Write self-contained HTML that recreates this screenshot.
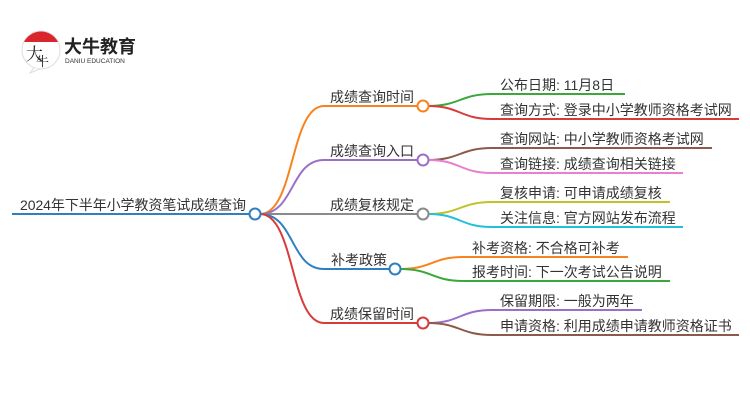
<!DOCTYPE html>
<html><head><meta charset="utf-8"><style>
html,body{margin:0;padding:0;background:#fff;}
svg{display:block;font-family:"Liberation Sans","Noto Sans CJK SC",sans-serif;}
</style></head><body>
<svg width="750" height="410" viewBox="0 0 750 410" xmlns="http://www.w3.org/2000/svg">
<!-- logo -->
<circle cx="41" cy="50" r="19" fill="#fff" stroke="#ddd" stroke-width="1"/>
<path d="M24 42 A19 19 0 0 1 58 42 Z" fill="#d8262c"/>
<path d="M34 68 L30 73 L40 69" fill="#fff" stroke="#ddd" stroke-width="1"/>
<text x="26" y="60" font-size="17" fill="#222" font-family="'Noto Serif CJK SC',serif">大</text>
<text x="36" y="66" font-size="13" fill="#222" font-family="'Noto Serif CJK SC',serif">牛</text>
<text x="64" y="53" font-size="18" font-weight="bold" fill="#222">大牛教育</text>
<text x="65" y="63" font-size="6.5" fill="#333">DANIU EDUCATION</text>

<g fill="none" stroke-width="2">
<line x1="12" y1="214" x2="250" y2="214" stroke="#2f7fc1"/>
<path d="M260 214 C295 214 290 106 324 106 L418 106" stroke="#f7831f"/>
<path d="M260 214 C295 214 290 160 324 160 L418 160" stroke="#9b6fc9"/>
<path d="M260 214 L418 214" stroke="#8a8a8a"/>
<path d="M260 214 C295 214 290 269 324 269 L389 269" stroke="#2f7fc1"/>
<path d="M260 214 C295 214 290 323 324 323 L417 323" stroke="#d93b3b"/>
<path d="M428 106 C460 106 460 94 492 94 L625 94" stroke="#3aa83a"/>
<path d="M428 106 C460 106 460 119 492 119 L739 119" stroke="#d93b3b"/>
<path d="M428 160 C460 160 460 148 492 148 L712 148" stroke="#8b5a4a"/>
<path d="M428 160 C460 160 460 173 492 173 L683 173" stroke="#e87fcf"/>
<path d="M428 214 C460 214 460 202 492 202 L670 202" stroke="#c2c22a"/>
<path d="M428 214 C460 214 460 227 492 227 L683 227" stroke="#22c0d8"/>
<path d="M400 269 C432 269 432 257 463 257 L628 257" stroke="#f7831f"/>
<path d="M400 269 C432 269 432 281 463 281 L670 281" stroke="#3aa83a"/>
<path d="M428 323 C460 323 460 310 492 310 L642 310" stroke="#9b6fc9"/>
<path d="M428 323 C460 323 460 335 492 335 L739 335" stroke="#8b5a4a"/>
</g>
<g fill="#fff" stroke-width="2">
<circle cx="255" cy="214" r="5.5" stroke="#2f7fc1"/>
<circle cx="423" cy="106" r="5.5" stroke="#f7831f"/>
<circle cx="423" cy="160" r="5.5" stroke="#9b6fc9"/>
<circle cx="423" cy="214" r="5.5" stroke="#8a8a8a"/>
<circle cx="395" cy="269" r="5.5" stroke="#2f7fc1"/>
<circle cx="423" cy="323" r="5.5" stroke="#d93b3b"/>
</g>
<g fill="#333" font-size="14">
<text x="20" y="210" textLength="226">2024年下半年小学教资笔试成绩查询</text>
<text x="414" y="102" text-anchor="end">成绩查询时间</text>
<text x="414" y="156" text-anchor="end">成绩查询入口</text>
<text x="414" y="210" text-anchor="end">成绩复核规定</text>
<text x="331" y="265">补考政策</text>
<text x="414" y="319" text-anchor="end">成绩保留时间</text>
</g>
<g fill="#333" font-size="14">
<text x="500" y="90">公布日期: 11月8日</text>
<text x="500" y="115">查询方式: 登录中小学教师资格考试网</text>
<text x="500" y="144">查询网站: 中小学教师资格考试网</text>
<text x="500" y="169">查询链接: 成绩查询相关链接</text>
<text x="500" y="198">复核申请: 可申请成绩复核</text>
<text x="500" y="223">关注信息: 官方网站发布流程</text>
<text x="472" y="253">补考资格: 不合格可补考</text>
<text x="472" y="277">报考时间: 下一次考试公告说明</text>
<text x="500" y="306">保留期限: 一般为两年</text>
<text x="500" y="331">申请资格: 利用成绩申请教师资格证书</text>
</g>
</svg>
</body></html>
